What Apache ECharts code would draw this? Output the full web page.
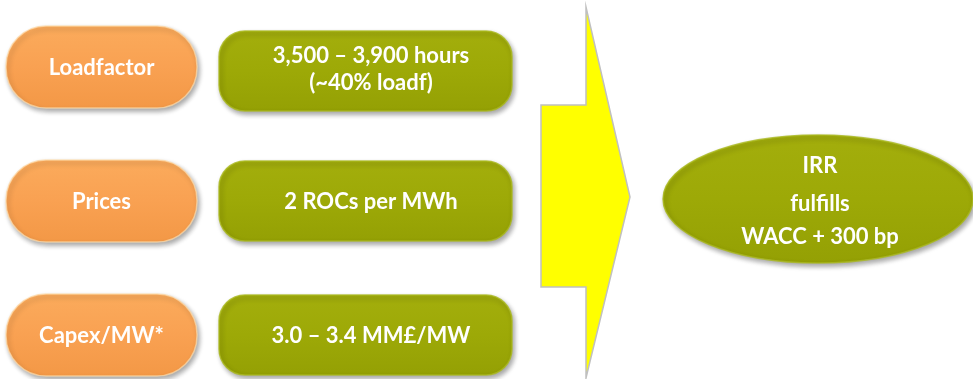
<!DOCTYPE html>
<html>
<head>
    <meta charset="utf-8"/>
    <title>IRR drivers</title>
    <style type="text/css">
        html, body {
            margin: 0;
            padding: 0;
            background: #ffffff;
        }
        #main {
            width: 973px;
            height: 379px;
        }
    </style>
    <script type="text/javascript" src="https://cdn.jsdelivr.net/npm/echarts@6/dist/echarts.min.js"></script>
</head>
<body>
<div id="main"></div>
<script type="text/javascript">

    // 数据
    var drivers = ['Loadfactor', 'Prices', 'Capex/MW*'];
    var assumptions = ['3,500 – 3,900 hours\n(~40% loadf)', '2 ROCs per MWh', '3.0 – 3.4 MM£/MW'];
    var outcomeTitle = 'IRR';
    var outcomeLines = ['fulfills', 'WACC + 300 bp'];

    var FONT = 'bold 22px Lato, "Open Sans", sans-serif';

    var myChart = echarts.init(document.getElementById('main'));

    function shadowStyle() {
        return {
            shadowBlur: 5,
            shadowOffsetX: 2,
            shadowOffsetY: 3,
            shadowColor: 'rgba(0,0,0,0.35)'
        };
    }

    // 左侧橙色胶囊
    function renderDriver(params, api) {
        var c = api.coord([0, api.value(1)]);
        var h = 82;
        return {
            type: 'group',
            children: [{
                type: 'rect',
                shape: {x: 6, y: c[1] - h / 2, width: 191, height: h, r: 40},
                style: echarts.util.extend({
                    fill: new echarts.graphic.LinearGradient(0, 0, 0, 1, [
                        {offset: 0, color: '#fbab5c'},
                        {offset: 0.5, color: '#f9a152'},
                        {offset: 1, color: '#f39846'}
                    ]),
                    stroke: 'rgba(255,220,170,0.7)',
                    lineWidth: 1.5
                }, shadowStyle())
            }, {
                type: 'text',
                style: {
                    text: drivers[params.dataIndex],
                    x: 101.5,
                    y: c[1] + 1,
                    align: 'center',
                    verticalAlign: 'middle',
                    font: FONT,
                    fill: '#ffffff'
                }
            }]
        };
    }

    // 中间绿色圆角框
    function renderAssumption(params, api) {
        var c = api.coord([0, api.value(1)]);
        var h = 80;
        var cy = params.dataIndex === 0 ? c[1] + 4 : c[1];
        return {
            type: 'group',
            children: [{
                type: 'rect',
                shape: {x: 219, y: cy - h / 2, width: 293, height: h, r: 26},
                style: echarts.util.extend({
                    fill: new echarts.graphic.LinearGradient(0, 0, 0, 1, [
                        {offset: 0, color: '#a3ae0c'},
                        {offset: 0.5, color: '#9da907'},
                        {offset: 1, color: '#94a004'}
                    ]),
                    stroke: 'rgba(170,185,30,0.8)',
                    lineWidth: 1.5
                }, shadowStyle())
            }, {
                type: 'text',
                style: {
                    text: assumptions[params.dataIndex],
                    x: 371,
                    y: params.dataIndex === 0 ? c[1] + 2 : c[1] + 1,
                    align: 'center',
                    verticalAlign: 'middle',
                    font: FONT,
                    lineHeight: 27,
                    fill: '#ffffff'
                }
            }]
        };
    }

    // 右侧椭圆
    function renderOutcome(params, api) {
        var c = api.coord([0, api.value(1)]);
        var cy = c[1] - 2;
        return {
            type: 'group',
            children: [{
                type: 'ellipse',
                shape: {cx: 818, cy: cy, rx: 155, ry: 64},
                style: echarts.util.extend({
                    fill: new echarts.graphic.LinearGradient(0, 0, 0, 1, [
                        {offset: 0, color: '#a3ae0c'},
                        {offset: 0.5, color: '#9da907'},
                        {offset: 1, color: '#94a004'}
                    ]),
                    stroke: 'rgba(170,185,30,0.8)',
                    lineWidth: 1.5
                }, shadowStyle())
            }, {
                type: 'text',
                style: {
                    text: '{a|' + outcomeTitle + '}\n' + outcomeLines.map(function (l) {
                        return '{b|' + l + '}';
                    }).join('\n'),
                    x: 820,
                    y: cy,
                    align: 'center',
                    verticalAlign: 'middle',
                    fill: '#ffffff',
                    rich: {
                        a: {font: FONT, fill: '#ffffff', lineHeight: 43},
                        b: {font: FONT, fill: '#ffffff', lineHeight: 33}
                    }
                }
            }]
        };
    }

    var option = {
        animation: false,
        // 三行中心 67 / 201 / 335
        grid: {left: 0, top: 67, width: 973, height: 268},
        xAxis: {type: 'value', min: 0, max: 973, show: false},
        yAxis: {type: 'category', data: drivers, inverse: true, boundaryGap: false, show: false},
        graphic: [{
            // 黄色箭头
            type: 'polygon',
            shape: {
                points: [[541, 105], [586, 105], [586, 7], [630, 197], [586, 378], [586, 287], [541, 287]]
            },
            style: {fill: '#ffff00', stroke: '#c0c0c0', lineWidth: 1.5}
        }],
        series: [{
            type: 'custom',
            renderItem: renderDriver,
            data: drivers.map(function (d) { return [0, d]; }),
            clip: false,
            silent: true
        }, {
            type: 'custom',
            renderItem: renderAssumption,
            data: drivers.map(function (d) { return [0, d]; }),
            clip: false,
            silent: true
        }, {
            type: 'custom',
            renderItem: renderOutcome,
            data: [[0, drivers[1]]],
            clip: false,
            silent: true
        }]
    };

    myChart.setOption(option);

</script>
</body>
</html>
